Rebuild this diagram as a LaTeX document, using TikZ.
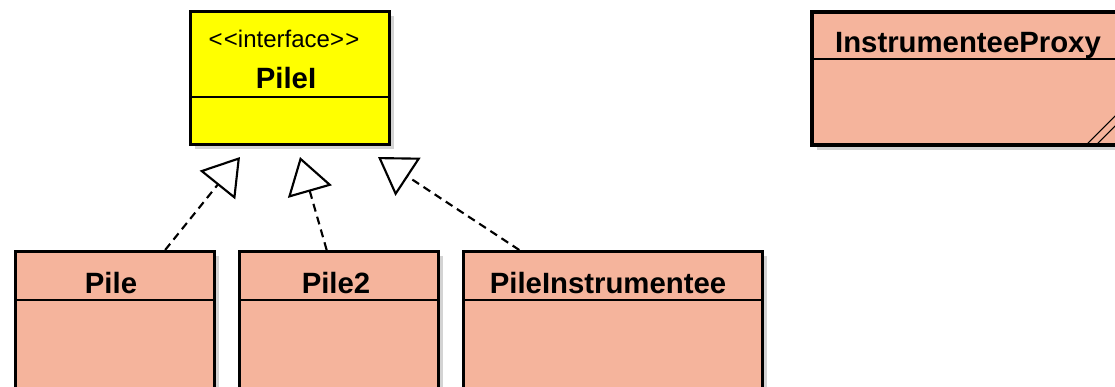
\documentclass[tikz,border=0pt]{standalone}
\usepackage{fontspec}
\setmainfont{Liberation Sans}
\usetikzlibrary{arrows.meta,shadows,calc}
\definecolor{salmon}{HTML}{F5B49C}
\definecolor{iface}{HTML}{FFFF00}

\begin{document}
\begin{tikzpicture}[x=0.75pt,y=-0.75pt,
  cls/.style={draw,line width=1.9pt,fill=salmon,anchor=north west,inner sep=0pt,
    drop shadow={shadow xshift=3.5pt,shadow yshift=-3.5pt,opacity=0.35}},
  clsname/.style={font=\bfseries\fontsize{22}{24}\selectfont,anchor=base},
  sep/.style={line width=1.6pt},
  realize/.style={dash pattern=on 6pt off 4pt,line width=1.6pt,
    -{Triangle[open,length=27pt,width=34pt]}}]
\useasboundingbox (0,0) rectangle (1115,386);
\clip (0,0) rectangle (1115,386);

% class boxes
\node[cls,fill=iface,minimum width=149.25pt,minimum height=99.75pt] (pilei) at (189,10) {};
\node[cls,line width=3pt,minimum width=237pt,minimum height=99.75pt] (proxy) at (810,10) {};
\node[cls,minimum width=149.25pt,minimum height=105pt] (pile) at (14,250) {};
\node[cls,minimum width=149.25pt,minimum height=105pt] (pile2) at (238,250) {};
\node[cls,minimum width=224.25pt,minimum height=105pt] (pileinst) at (462,250) {};

% header separators
\draw[sep] ([yshift=-65.25pt]pilei.north west) -- ([yshift=-65.25pt]pilei.north east);
\draw[sep] ([yshift=-36.75pt]proxy.north west) -- ([yshift=-36.75pt]proxy.north east);
\foreach \c in {pile,pile2,pileinst}
  \draw[sep] ([yshift=-37.5pt]\c.north west) -- ([yshift=-37.5pt]\c.north east);

% names
\node[font=\fontsize{18}{20}\selectfont,anchor=base] (pilei-st) at (284,47) {<\kern1pt<interface>\kern1pt>};
\node[clsname] (pilei-name) at (286,88) {PileI};
\node[clsname] (proxy-name) at (968,52) {InstrumenteeProxy};
\node[clsname] (pile-name) at (111,293) {Pile};
\node[clsname] (pile2-name) at (336,293) {Pile2};
\node[clsname] (pileinst-name) at (608,293) {PileInstrumentee};

% resize grip
\draw[line width=0.8pt] ([shift={(-43,-3)}]proxy.south east) -- ([shift={(-3,-43)}]proxy.south east);
\draw[line width=0.8pt] ([shift={(-33,-3)}]proxy.south east) -- ([shift={(-3,-33)}]proxy.south east);

% realizations
\coordinate (t-pile) at (240,157);
\coordinate (t-pile2) at (300,157);
\coordinate (t-pileinst) at (378,157);
\draw[realize] ($(pile.north west)!0.75!(pile.north east)$) -- (t-pile);
\draw[realize] ($(pile2.north west)!0.44!(pile2.north east)$) -- (t-pile2);
\draw[realize] ($(pileinst.north west)!0.19!(pileinst.north east)$) -- (t-pileinst);
\end{tikzpicture}
\end{document}
